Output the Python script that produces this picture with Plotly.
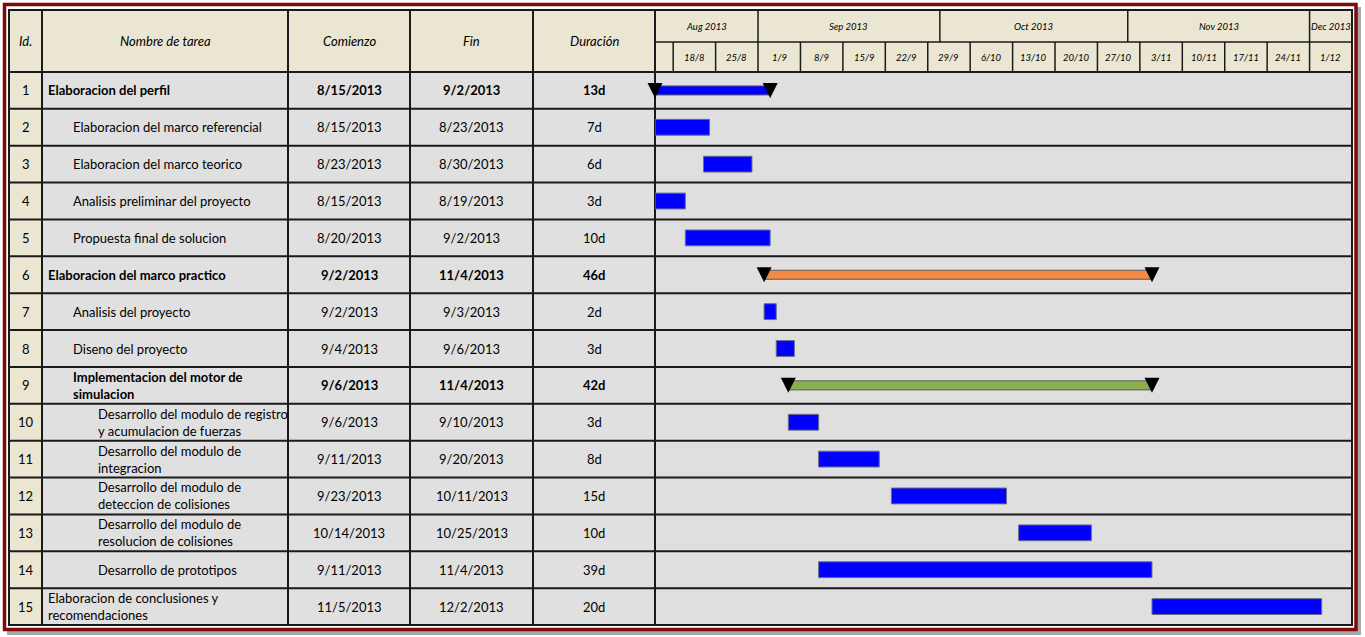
import plotly.graph_objects as go
import pandas as pd

# ---------------- data ----------------
ids = list(range(1, 16))
tasks = [
    "Elaboracion del perfil",
    "Elaboracion del marco referencial",
    "Elaboracion del marco teorico",
    "Analisis preliminar del proyecto",
    "Propuesta final de solucion",
    "Elaboracion del marco practico",
    "Analisis del proyecto",
    "Diseno del proyecto",
    "Implementacion del motor de<br>simulacion",
    "Desarrollo del modulo de registro<br>y acumulacion de fuerzas",
    "Desarrollo del modulo de<br>integracion",
    "Desarrollo del modulo de<br>deteccion de colisiones",
    "Desarrollo del modulo de<br>resolucion de colisiones",
    "Desarrollo de prototipos",
    "Elaboracion de conclusiones y<br>recomendaciones",
]
starts = ["2013-08-15", "2013-08-15", "2013-08-23", "2013-08-15", "2013-08-20",
          "2013-09-02", "2013-09-02", "2013-09-04", "2013-09-06", "2013-09-06",
          "2013-09-11", "2013-09-23", "2013-10-14", "2013-09-11", "2013-11-05"]
ends = ["2013-09-02", "2013-08-23", "2013-08-30", "2013-08-19", "2013-09-02",
        "2013-11-04", "2013-09-03", "2013-09-06", "2013-11-04", "2013-09-10",
        "2013-09-20", "2013-10-11", "2013-10-25", "2013-11-04", "2013-12-02"]
durations = ["13d", "7d", "6d", "3d", "10d", "46d", "2d", "3d", "42d", "3d",
             "8d", "15d", "10d", "39d", "20d"]
levels = [0, 1, 1, 1, 1, 0, 1, 1, 1, 2, 2, 2, 2, 2, 0]
summary_ids = [1, 6, 9]
summary_colors = ["#0000FF", "#F18B45", "#8BAE4F"]

month_starts = ["2013-08-01", "2013-09-01", "2013-10-01", "2013-11-01", "2013-12-01"]
month_labels = ["Aug 2013", "Sep 2013", "Oct 2013", "Nov 2013", "Dec 2013"]
week_starts = ["2013-08-18", "2013-08-25", "2013-09-01", "2013-09-08", "2013-09-15",
               "2013-09-22", "2013-09-29", "2013-10-06", "2013-10-13", "2013-10-20",
               "2013-10-27", "2013-11-03", "2013-11-10", "2013-11-17", "2013-11-24",
               "2013-12-01"]
week_labels = ["18/8", "25/8", "1/9", "8/9", "15/9", "22/9", "29/9", "6/10", "13/10",
               "20/10", "27/10", "3/11", "10/11", "17/11", "24/11", "1/12"]
range_start, range_end = "2013-08-15", "2013-12-08"
headers = ["Id.", "Nombre de tarea", "Comienzo", "Fin", "Duración"]

# ---------------- layout geometry (pixels) ----------------
W, H = 1365, 637
TL, TT, HM, HB, TB = 9, 10, 42, 72, 625
CL, CR = 655, 1352
col_edges = [TL, 42, 288, 410, 533, CL]
ROWH = (TB - HB) / len(ids)

def px(x):
    return x / W

def py(y):
    return 1 - y / H

FONT = "Lato"
FS = 13
BEIGE = "#EAE6D2"
CELL = "#E0E0E0"
CHART = "#DFDFDF"
LINE = "#1a1a1a"

day = pd.Timedelta(days=1)
st = pd.to_datetime(starts)
en = pd.to_datetime(ends) + day
dur_ms = [(e - s).total_seconds() * 1000 for s, e in zip(st, en)]

fig = go.Figure()

# regular task bars
reg = [i for i in range(len(ids)) if ids[i] not in summary_ids]
fig.add_trace(go.Bar(
    orientation="h", y=[ids[i] for i in reg], x=[dur_ms[i] for i in reg],
    base=[starts[i] for i in reg], width=0.43,
    marker=dict(color="#0000FF", line=dict(color="#6E6E8A", width=1)),
    xaxis="x", yaxis="y", showlegend=False, hoverinfo="skip"))

# summary bars
sidx = [ids.index(k) for k in summary_ids]
fig.add_trace(go.Bar(
    orientation="h", y=summary_ids, x=[dur_ms[i] for i in sidx],
    base=[starts[i] for i in sidx], width=0.245,
    marker=dict(color=summary_colors, line=dict(color="#5A5A5A", width=1)),
    xaxis="x", yaxis="y", showlegend=False, hoverinfo="skip"))

# summary end markers (tip sits below row centre)
tri_size = 15
off = (tri_size / 2) / ROWH
tri_x = [starts[i] for i in sidx] + [en[i].strftime("%Y-%m-%d") for i in sidx]
tri_y = [ids[i] + off for i in sidx] * 2
fig.add_trace(go.Scatter(
    x=tri_x, y=tri_y, mode="markers", cliponaxis=False,
    marker=dict(symbol="arrow-down", size=tri_size, color="black", line=dict(width=0)),
    xaxis="x", yaxis="y", showlegend=False, hoverinfo="skip"))

shapes = []
# frame shadow + frame
shapes.append(dict(type="rect", xref="paper", yref="paper", x0=px(7), x1=px(1361), y0=py(635), y1=py(7),
                   fillcolor="#A8A8A8", line=dict(width=0), layer="below"))
shapes.append(dict(type="rect", xref="paper", yref="paper", x0=px(4.5), x1=px(1356), y0=py(629.5), y1=py(4.5),
                   fillcolor="white", line=dict(color="#7E0A0A", width=3.5), layer="below"))
# backgrounds
shapes.append(dict(type="rect", xref="paper", yref="paper", x0=px(TL), x1=px(CR), y0=py(HB), y1=py(TT),
                   fillcolor=BEIGE, line=dict(width=0), layer="below"))
shapes.append(dict(type="rect", xref="paper", yref="paper", x0=px(TL), x1=px(col_edges[1]), y0=py(TB), y1=py(HB),
                   fillcolor=BEIGE, line=dict(width=0), layer="below"))
shapes.append(dict(type="rect", xref="paper", yref="paper", x0=px(col_edges[1]), x1=px(CL), y0=py(TB), y1=py(HB),
                   fillcolor=CELL, line=dict(width=0), layer="below"))
shapes.append(dict(type="rect", xref="paper", yref="paper", x0=px(CL), x1=px(CR), y0=py(TB), y1=py(HB),
                   fillcolor=CHART, line=dict(width=0), layer="below"))
# column lines
for xe in col_edges[1:]:
    shapes.append(dict(type="line", xref="paper", yref="paper", x0=px(xe), x1=px(xe), y0=py(TB), y1=py(TT),
                       line=dict(color=LINE, width=2), layer="below"))
# header bottom and row lines
shapes.append(dict(type="line", xref="paper", yref="paper", x0=px(TL), x1=px(CR), y0=py(HB), y1=py(HB),
                   line=dict(color=LINE, width=2), layer="below"))
for k in ids[:-1]:
    shapes.append(dict(type="line", xref="paper", yref="y", x0=px(TL), x1=px(CR), y0=k + 0.5, y1=k + 0.5,
                       line=dict(color=LINE, width=2), layer="below"))
# timeline header lines
shapes.append(dict(type="line", xref="paper", yref="paper", x0=px(CL), x1=px(CR), y0=py(HM), y1=py(HM),
                   line=dict(color=LINE, width=1.5), layer="below"))
for m in month_starts:
    if range_start < m < range_end:
        shapes.append(dict(type="line", xref="x", yref="paper", x0=m, x1=m, y0=py(HM), y1=py(TT),
                           line=dict(color=LINE, width=1.5), layer="below"))
for w in week_starts:
    shapes.append(dict(type="line", xref="x", yref="paper", x0=w, x1=w, y0=py(HB), y1=py(HM),
                       line=dict(color=LINE, width=1.5), layer="below"))
# outer table border
shapes.append(dict(type="rect", xref="paper", yref="paper", x0=px(TL), x1=px(CR), y0=py(TB), y1=py(TT),
                   line=dict(color=LINE, width=2), layer="below"))

ann = []
def text(x, y, t, xref="paper", yref="paper", size=FS, xanchor="center", align="center"):
    ann.append(dict(x=x, y=y, xref=xref, yref=yref, text=t, showarrow=False,
                    xanchor=xanchor, yanchor="middle", align=align,
                    font=dict(family=FONT, size=size, color="black")))

# table header
for h, a, b in zip(headers, col_edges[:-1], col_edges[1:]):
    text(px((a + b) / 2), py((TT + HB) / 2), "<i>%s</i>" % h)

# timeline header
rs, re_ = pd.Timestamp(range_start), pd.Timestamp(range_end)
for m, lab in zip(month_starts, month_labels):
    m0 = pd.Timestamp(m)
    m1 = m0 + pd.offsets.MonthBegin(1)
    a, b = max(m0, rs), min(m1, re_)
    mid = a + (b - a) / 2
    text(mid.strftime("%Y-%m-%d %H:%M"), py((TT + HM) / 2), "<i>%s</i>" % lab, xref="x", size=9.5)
for w, lab in zip(week_starts, week_labels):
    mid = pd.Timestamp(w) + pd.Timedelta(hours=84)
    text(mid.strftime("%Y-%m-%d %H:%M"), py((HM + HB) / 2), "<i>%s</i>" % lab, xref="x", size=9.5)

# table body
def fmt(d):
    return "%d/%d/%d" % (d.month, d.day, d.year)

for i, k in enumerate(ids):
    b = k in summary_ids
    wrap = (lambda s: "<b>%s</b>" % s) if b else (lambda s: s)
    text(px((col_edges[0] + col_edges[1]) / 2), k, str(k), yref="y")
    name = wrap(tasks[i]) if "<br>" not in tasks[i] else "<br>".join(wrap(p) for p in tasks[i].split("<br>"))
    text(px(col_edges[1] + 4 + 25 * levels[i]), k, name, yref="y", xanchor="left", align="left")
    text(px((col_edges[2] + col_edges[3]) / 2), k, wrap(fmt(st[i])), yref="y")
    text(px((col_edges[3] + col_edges[4]) / 2), k, wrap(fmt(pd.Timestamp(ends[i]))), yref="y")
    text(px((col_edges[4] + col_edges[5]) / 2), k, wrap(durations[i]), yref="y")

fig.update_layout(
    width=W, height=H, margin=dict(l=0, r=0, t=0, b=0),
    paper_bgcolor="white", plot_bgcolor="rgba(0,0,0,0)",
    font=dict(family=FONT, size=FS, color="black"),
    barmode="overlay", showlegend=False,
    xaxis=dict(type="date", domain=[px(CL), px(CR)], range=[range_start, range_end],
               visible=False, fixedrange=True),
    yaxis=dict(domain=[py(TB), py(HB)], range=[len(ids) + 0.5, 0.5], visible=False, fixedrange=True),
    shapes=shapes, annotations=ann,
)

fig.write_html("out.html", config={"displayModeBar": False})
